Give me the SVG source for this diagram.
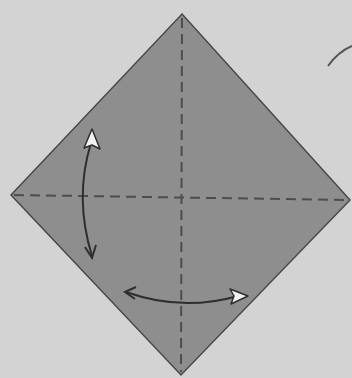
<svg xmlns="http://www.w3.org/2000/svg" width="352" height="378" viewBox="0 0 352 378">
<style>
.edge{stroke:#4a4a4a;stroke-width:1.5;fill:#8e8e8e}
.crease{stroke:#4d4d4d;stroke-width:2;stroke-dasharray:10,6;fill:none}
.arr{stroke:#2e2e2e;stroke-width:2;fill:none}
.head{fill:#f2f2f2;stroke:#2e2e2e;stroke-width:1.5;stroke-linejoin:round}
</style>
<rect width="352" height="378" fill="#d3d3d3"/>
<g id="paper">
<polygon points="182,14 350,200 181,375 11,195" class="edge"/>
</g>
<g id="creases">
<line x1="182" y1="18" x2="181" y2="372" class="crease"/>
<line x1="14" y1="195" x2="347" y2="200" class="crease"/>
</g>
<g id="connectors">
<path d="M91,143 Q74,198 92,256" class="arr"/>
<polygon points="84,148 92,129 100,149 92,145" class="head"/>
<path d="M85,247 L92,258 L96,245" class="arr"/>
<path d="M126,292 Q182,312 238,296" class="arr"/>
<path d="M136,287 L125,292 L135,299" class="arr"/>
<polygon points="230,289 248,296 231,304 234,296" class="head"/>
<path d="M328,66 Q338,52 352,46" stroke="#555" stroke-width="2" fill="none"/>
</g>
</svg>
